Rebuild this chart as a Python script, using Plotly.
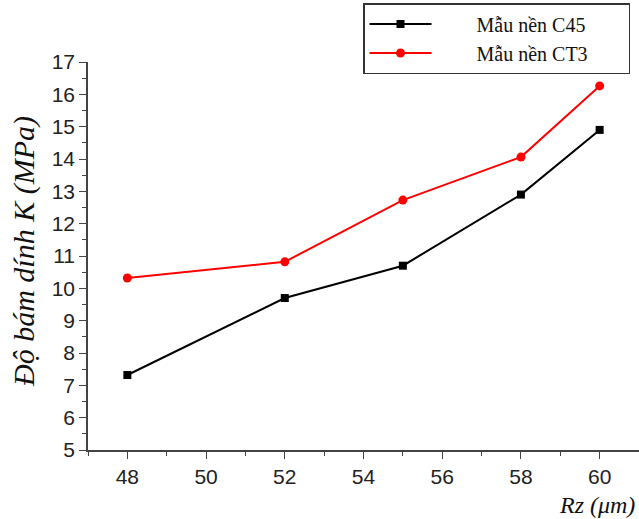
import plotly.graph_objects as go

rz = [48, 52, 55, 58, 60]
k_c45 = [7.32, 9.70, 10.70, 12.90, 14.90]
k_ct3 = [10.32, 10.82, 12.73, 14.06, 16.26]
name_c45 = "Mẫu nền C45"
name_ct3 = "Mẫu nền CT3"
x_ticks = [48, 50, 52, 54, 56, 58, 60]
y_ticks = list(range(5, 18))

lead = "\u00a0" * 8
pad = "\u00a0" * 7

fig = go.Figure()
fig.add_trace(go.Scatter(x=rz, y=k_c45, mode="lines+markers", name=lead + name_c45 + pad,
                         line=dict(color="black", width=2),
                         marker=dict(symbol="square", size=8, color="black")))
fig.add_trace(go.Scatter(x=rz, y=k_ct3, mode="lines+markers", name=lead + name_ct3 + pad,
                         line=dict(color="#ff0000", width=2),
                         marker=dict(symbol="circle", size=9, color="#ff0000")))

axis_common = dict(showline=True, linecolor="#444", linewidth=1.5, ticks="outside",
                   ticklen=7, tickwidth=1.2, tickcolor="#444", showgrid=False, zeroline=False,
                   tickfont=dict(family="Liberation Sans, Arial", size=21, color="#222"))
fig.update_xaxes(range=[47, 61], tickvals=x_ticks,
                 minor=dict(ticks="outside", ticklen=4, tickcolor="#444", dtick=1, tick0=47),
                 **axis_common)
fig.update_yaxes(range=[5, 17], tickvals=y_ticks,
                 minor=dict(ticks="outside", ticklen=4, tickcolor="#444", dtick=0.5, tick0=5),
                 **axis_common)

fig.update_layout(
    width=639, height=519,
    margin=dict(l=88, r=0, t=62, b=69, autoexpand=False),
    plot_bgcolor="white", paper_bgcolor="white",
    font=dict(family="Liberation Serif"),
    showlegend=True,
    legend=dict(x=(363 - 88) / 551, y=1 + 59 / 388, xanchor="left", yanchor="top",
                bordercolor="#333", borderwidth=1.5, bgcolor="white",
                font=dict(family="Liberation Serif, Times New Roman", size=20, color="#111"),
                itemwidth=62, tracegroupgap=0),
    annotations=[
        dict(text="<i>Độ bám dính K (MPa)</i>", xref="paper", yref="paper",
             x=(24 - 88) / 551, y=(450 - 252) / 388, xanchor="center", yanchor="middle",
             textangle=-90, showarrow=False,
             font=dict(family="Liberation Serif, Times New Roman", size=30, color="#111")),
        dict(text="<i>Rz (μm)</i>", xref="paper", yref="paper",
             x=(547 + 2) / 551, y=-40 / 388, xanchor="right", yanchor="top", showarrow=False,
             font=dict(family="Liberation Serif, Times New Roman", size=24, color="#111")),
    ],
)

fig.write_html("out.html")
